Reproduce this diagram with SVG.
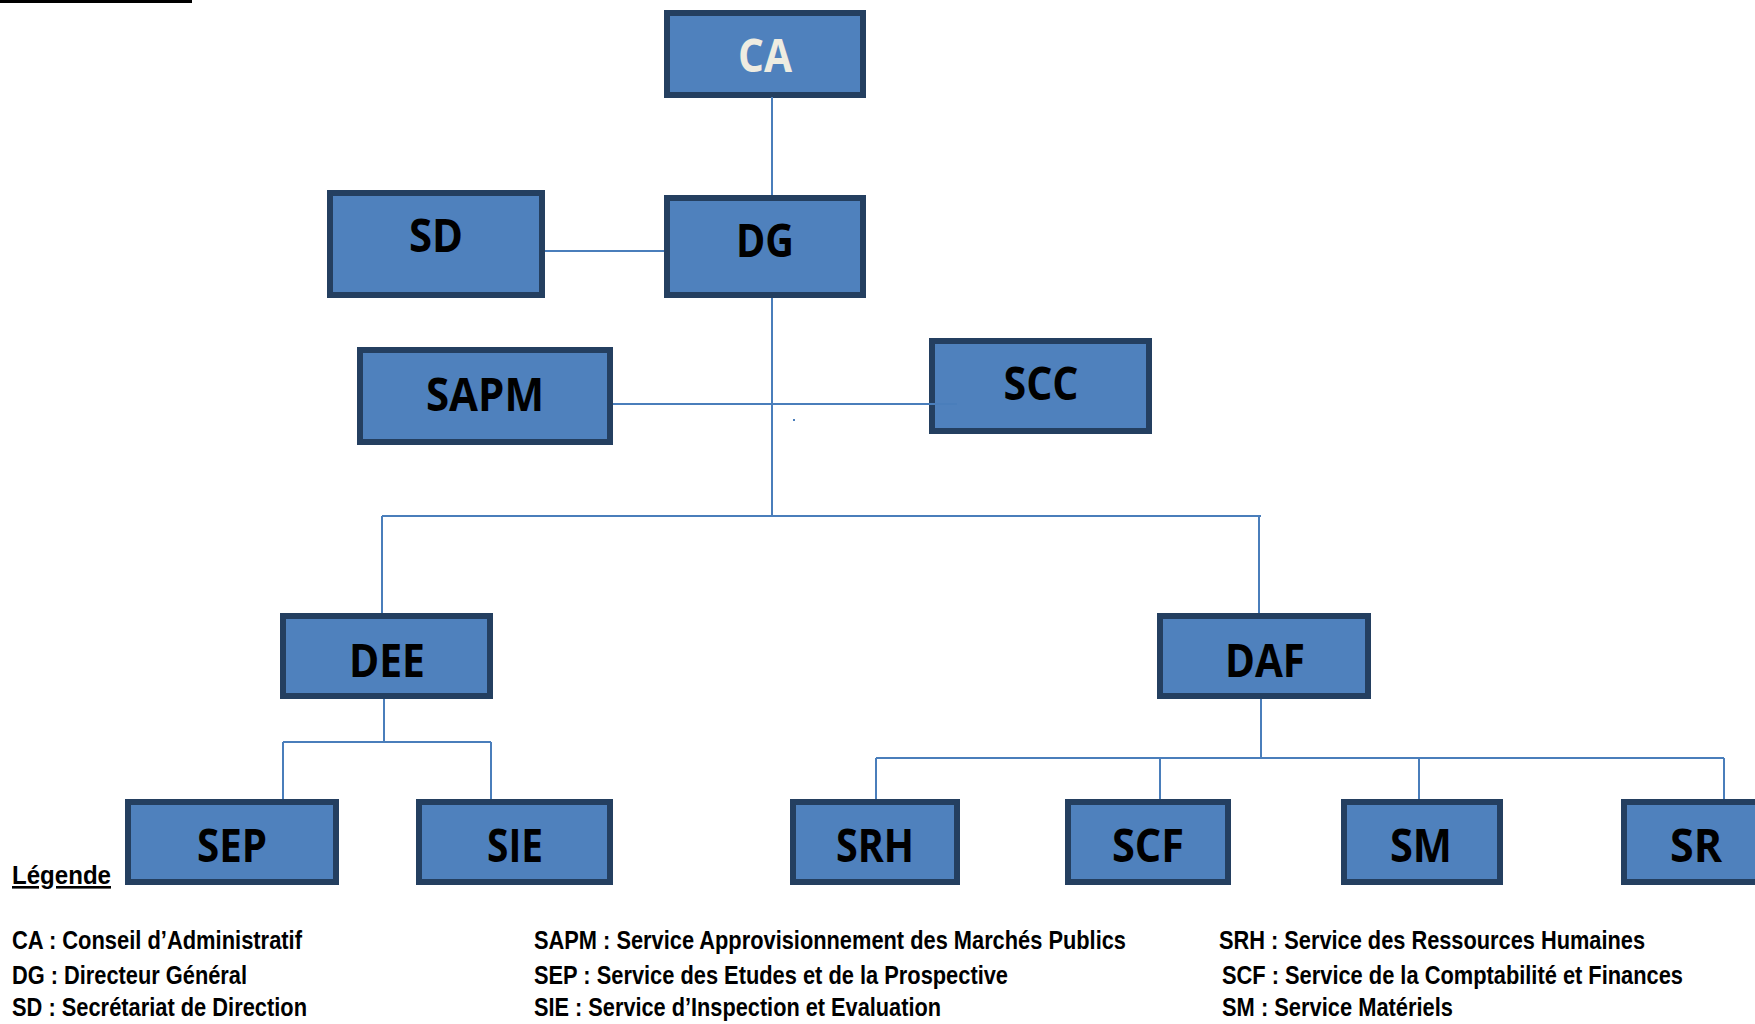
<svg xmlns="http://www.w3.org/2000/svg" width="1755" height="1024" viewBox="0 0 1755 1024">
<style>
.box{fill:#4F81BD;stroke:#243F60;stroke-width:6}
.lbl{font-family:"Open Sans","DejaVu Sans",sans-serif;font-weight:700;font-size:47px;fill:#000;text-anchor:middle}
.lblw{fill:#EEECE1}
.conn{stroke:#4A7EBB;stroke-width:2;fill:none}
.leg{font-family:"Liberation Sans",Arial,sans-serif;font-weight:700;font-size:26px;fill:#000}
</style>
<rect width="1755" height="1024" fill="#fff"/>
<rect x="0" y="0" width="192" height="3" fill="#000"/>
<g id="CA"><rect class="box" x="667" y="13" width="196" height="82"/><text class="lbl lblw" x="765" y="72" textLength="54" lengthAdjust="spacingAndGlyphs">CA</text></g>
<g id="DG"><rect class="box" x="667" y="198" width="196" height="97"/><text class="lbl" x="765" y="257" textLength="58" lengthAdjust="spacingAndGlyphs">DG</text></g>
<g id="SD"><rect class="box" x="330" y="193" width="212" height="102"/><text class="lbl" x="436" y="252" textLength="54" lengthAdjust="spacingAndGlyphs">SD</text></g>
<g id="SAPM"><rect class="box" x="360" y="350" width="250" height="92"/><text class="lbl" x="485" y="411" textLength="118" lengthAdjust="spacingAndGlyphs">SAPM</text></g>
<g id="SCC"><rect class="box" x="932" y="341" width="217" height="90"/><text class="lbl" x="1041" y="400" textLength="75" lengthAdjust="spacingAndGlyphs">SCC</text></g>
<g id="DEE"><rect class="box" x="283" y="616" width="207" height="80"/><text class="lbl" x="387" y="677" textLength="76" lengthAdjust="spacingAndGlyphs">DEE</text></g>
<g id="DAF"><rect class="box" x="1160" y="616" width="208" height="80"/><text class="lbl" x="1265" y="677" textLength="80" lengthAdjust="spacingAndGlyphs">DAF</text></g>
<g id="SEP"><rect class="box" x="128" y="802" width="208" height="80"/><text class="lbl" x="232" y="862" textLength="70" lengthAdjust="spacingAndGlyphs">SEP</text></g>
<g id="SIE"><rect class="box" x="419" y="802" width="191" height="80"/><text class="lbl" x="515" y="862" textLength="56" lengthAdjust="spacingAndGlyphs">SIE</text></g>
<g id="SRH"><rect class="box" x="793" y="802" width="164" height="80"/><text class="lbl" x="875" y="862" textLength="78" lengthAdjust="spacingAndGlyphs">SRH</text></g>
<g id="SCF"><rect class="box" x="1068" y="802" width="160" height="80"/><text class="lbl" x="1148" y="862" textLength="72" lengthAdjust="spacingAndGlyphs">SCF</text></g>
<g id="SM"><rect class="box" x="1344" y="802" width="156" height="80"/><text class="lbl" x="1421" y="862" textLength="62" lengthAdjust="spacingAndGlyphs">SM</text></g>
<g id="SR"><rect class="box" x="1624" y="802" width="140" height="80"/><text class="lbl" x="1696" y="862" textLength="52" lengthAdjust="spacingAndGlyphs">SR</text></g>
<g id="connectors">
<path class="conn" d="M772 97V195"/>
<path class="conn" d="M545 251H664"/>
<path class="conn" d="M772 298V516"/>
<path class="conn" d="M613 404H957"/>
<path class="conn" d="M382 516H1261"/>
<path class="conn" d="M382 516V613"/>
<path class="conn" d="M1259 516V613"/>
<path class="conn" d="M384 699V742"/>
<path class="conn" d="M283 742H491"/>
<path class="conn" d="M283 742V799"/>
<path class="conn" d="M491 742V799"/>
<path class="conn" d="M1261 699V758"/>
<path class="conn" d="M876 758H1724"/>
<path class="conn" d="M876 758V799"/>
<path class="conn" d="M1160 758V799"/>
<path class="conn" d="M1419 758V799"/>
<path class="conn" d="M1724 758V799"/>
<rect x="793" y="419" width="2" height="2" fill="#4A7EBB"/>
</g>
<g id="legend">
<text class="leg" x="12" y="884" textLength="99" lengthAdjust="spacingAndGlyphs" text-decoration="underline">Légende</text>
<text class="leg" x="12" y="949" textLength="290" lengthAdjust="spacingAndGlyphs">CA : Conseil d’Administratif</text>
<text class="leg" x="12" y="984" textLength="235" lengthAdjust="spacingAndGlyphs">DG : Directeur Général</text>
<text class="leg" x="12" y="1016" textLength="295" lengthAdjust="spacingAndGlyphs">SD : Secrétariat de Direction</text>
<text class="leg" x="534" y="949" textLength="592" lengthAdjust="spacingAndGlyphs">SAPM : Service Approvisionnement des Marchés Publics</text>
<text class="leg" x="534" y="984" textLength="474" lengthAdjust="spacingAndGlyphs">SEP : Service des Etudes et de la Prospective</text>
<text class="leg" x="534" y="1016" textLength="407" lengthAdjust="spacingAndGlyphs">SIE : Service d’Inspection et Evaluation</text>
<text class="leg" x="1219" y="949" textLength="426" lengthAdjust="spacingAndGlyphs">SRH : Service des Ressources Humaines</text>
<text class="leg" x="1222" y="984" textLength="461" lengthAdjust="spacingAndGlyphs">SCF : Service de la Comptabilité et Finances</text>
<text class="leg" x="1222" y="1016" textLength="231" lengthAdjust="spacingAndGlyphs">SM : Service Matériels</text>
</g>
</svg>
